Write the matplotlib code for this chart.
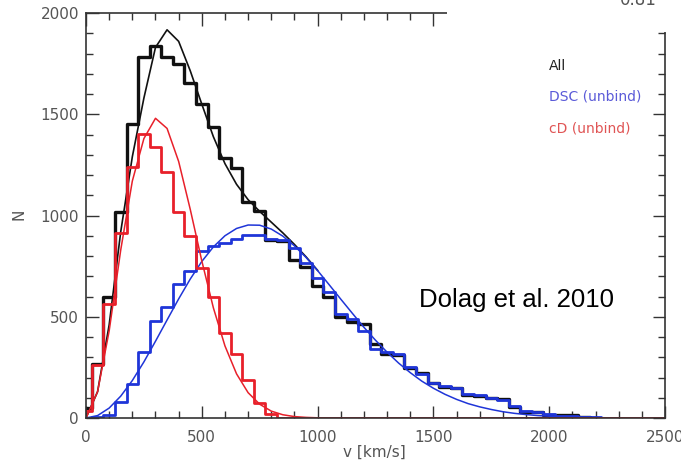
import numpy as np
import matplotlib
matplotlib.use("Agg")
import matplotlib.pyplot as plt
from matplotlib.patches import Rectangle
from matplotlib.ticker import MultipleLocator

# histogram bins (centres, km/s), step 50
v_all = np.arange(0, 2250, 50)
n_all = [50, 265, 596, 1017, 1452, 1784, 1836, 1784, 1746, 1656,
         1550, 1436, 1284, 1236, 1068, 1021, 880, 872, 778, 745,
         650, 597, 500, 472, 465, 367, 318, 310, 245, 220,
         171, 155, 150, 115, 110, 100, 95, 55, 31, 30,
         15, 15, 15, 5, 0]

v_dsc = np.arange(0, 2300, 50)
n_dsc = [0, 5, 15, 80, 170, 325, 480, 550, 660, 725,
         823, 848, 865, 885, 905, 905, 885, 880, 840, 766,
         693, 620, 515, 490, 430, 340, 325, 315, 250, 215,
         175, 160, 150, 120, 115, 100, 90, 60, 35, 30,
         20, 12, 8, 5, 3, 0]

v_cd = np.arange(0, 2550, 50)
n_cd = [35, 260, 562, 913, 1240, 1403, 1338, 1215, 1019, 897,
        741, 598, 418, 317, 186, 72, 20] + [0] * 34

# fitted curves
v_fit = np.arange(0, 2550, 50)
all_fit = [0, 130, 460, 920, 1290, 1580, 1830, 1917, 1860, 1715,
           1550, 1389, 1256, 1154, 1078, 1020, 967, 914, 857, 796, 729]
dsc_fit = [0, 12, 49, 108, 185, 277, 379, 484, 588, 686,
           773, 845, 900, 936, 953, 952, 933, 898, 850, 793,
           728, 658, 587, 517, 448, 384, 325, 271, 224, 182,
           147, 117, 92, 71, 55, 42, 31, 23, 17, 12,
           9, 6, 4, 3, 2, 1, 1]
cd_fit = [0, 130, 430, 830, 1170, 1380, 1480, 1430, 1267, 1031,
          776, 544, 356, 218, 125, 68, 34, 16, 7, 3, 1] + [0] * 30

labels = ["All", "DSC (unbind)", "cD (unbind)"]
label_colors = ["#222222", "#5a5ad8", "#e05555"]

BLACK = "#111111"
BLUE = "#1f35d8"
RED = "#e8202a"

fig = plt.figure(figsize=(6.81, 4.66), dpi=100)
ax = fig.add_axes([86 / 681, 1 - 418 / 466, 579 / 681, 405 / 466])

ax.step(v_all, n_all, where="mid", color=BLACK, lw=2.4)
ax.plot(v_fit[:len(all_fit)], all_fit, color=BLACK, lw=1.2)
ax.step(v_dsc, n_dsc, where="mid", color=BLUE, lw=2.0)
ax.plot(v_fit[:len(dsc_fit)], dsc_fit, color=BLUE, lw=1.1)
ax.step(v_cd, n_cd, where="mid", color=RED, lw=2.0)
ax.plot(v_fit[:len(cd_fit)], cd_fit, color=RED, lw=1.1)

ax.set_xlim(0, 2500)
ax.set_ylim(0, 2000)
ax.xaxis.set_major_locator(MultipleLocator(500))
ax.xaxis.set_minor_locator(MultipleLocator(100))
ax.yaxis.set_major_locator(MultipleLocator(500))
ax.yaxis.set_minor_locator(MultipleLocator(100))
ax.tick_params(which="both", direction="in", top=True, right=True,
               color="#333333", width=1.0, labelcolor="#555555", labelsize=11)
ax.tick_params(which="major", length=9)
ax.tick_params(which="minor", length=5)
ax.tick_params(axis="x", pad=9)
ax.tick_params(axis="y", pad=5)
for s in ax.spines.values():
    s.set_color("#333333")
    s.set_linewidth(1.2)

fig.text(19 / 681, 1 - 214 / 466, "N", rotation=90, ha="center", va="center",
         color="#555555", fontsize=11)
fig.text(374 / 681, 1 - 452 / 466, "v [km/s]", ha="center", va="center",
         color="#555555", fontsize=11)

for i, (lab, c) in enumerate(zip(labels, label_colors)):
    ax.text(0.80, [0.869, 0.795, 0.716][i], lab, transform=ax.transAxes,
            ha="left", va="center", color=c, fontsize=10)

ax.text(0.575, 0.291, "Dolag et al. 2010", transform=ax.transAxes,
        ha="left", va="center", fontsize=18.5, family="Liberation Sans",
        color="black")

# white patch covering the top-right corner of the screenshot
fig.patches.append(Rectangle((447 / 681, 1 - 32 / 466), 1, 1,
                             transform=fig.transFigure, facecolor="white",
                             edgecolor="none", zorder=5))
fig.text(638 / 681, 1.0, "0.81", ha="center", va="center", fontsize=12,
         color="#555555", zorder=6)

fig.savefig("out.png", dpi=100)
